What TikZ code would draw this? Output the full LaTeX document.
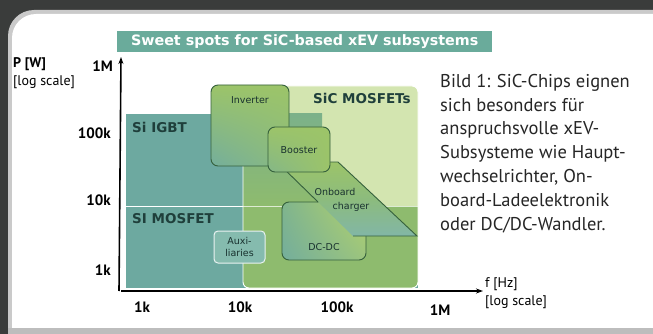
\documentclass[tikz,border=0pt]{standalone}
\usepackage{fontspec}
\setmainfont{PT Sans}
\newfontfamily\vfont{DejaVu Sans}
\usetikzlibrary{arrows.meta,shadings}
\definecolor{frame}{HTML}{3A3C3B}
\definecolor{cardedge}{HTML}{BDBDBD}
\definecolor{banner}{HTML}{6AAB9B}
\definecolor{siteal}{HTML}{6DA9A0}
\definecolor{sicgreen}{HTML}{D3E5B0}
\definecolor{mixgreen}{HTML}{8EBB6E}
\definecolor{boxgreen}{HTML}{9CC469}
\definecolor{boxteal}{HTML}{74AE9C}
\definecolor{yelgreen}{HTML}{B5D36A}
\definecolor{boxedge}{HTML}{35603C}
\definecolor{lbl}{HTML}{1F3F3B}
\definecolor{auxfill}{HTML}{85BBAE}
\tikzset{
  appbox/.style={draw=boxedge, line width=0.9pt, rounded corners=7pt},
  boxtxt/.style={font=\vfont\fontsize{9.5}{11.5}\selectfont, text=lbl!80!black, align=center, inner sep=0pt},
  regtxt/.style={font=\vfont\bfseries\fontsize{13.5}{15}\selectfont, text=lbl, anchor=west, inner sep=0pt},
  tick/.style={font=\bfseries\fontsize{15}{16}\selectfont, inner sep=0pt},
  axlbl/.style={font=\fontsize{14}{18}\selectfont, align=left, inner sep=0pt, anchor=north west},
  axis/.style={line width=1.6pt, -{Stealth[length=7pt,width=5pt]}}
}
\begin{document}
\begin{tikzpicture}[x=1pt,y=-1pt]
\useasboundingbox (0,0) rectangle (653,334);
% frame and card
\fill[frame] (0,0) rectangle (653,334);
\fill[cardedge!80!white] (8,334) -- (8,36) arc[start angle=180, end angle=270, radius=26] -- (653,10) -- (653,334) -- cycle;
\fill[white] (12,328) -- (12,38) arc[start angle=180, end angle=270, radius=24] -- (653,14) -- (653,328) -- cycle;
\fill[cardedge] (8,328) rectangle (653,334);
% title banner
\node[fill=banner, minimum width=375, minimum height=21, inner sep=0pt, anchor=north west,
      font=\vfont\bfseries\fontsize{14.3}{15}\selectfont, text=white] (title) at (117,31)
      {Sweet spots for SiC-based xEV subsystems};
% regions
\fill[siteal] (126,114) rectangle (322,288);
\fill[siteal] (126,206) rectangle (418,288);
\draw[white, line width=0.9pt] (126,206) -- (418,206);
\path[fill=sicgreen, rounded corners=6pt] (243,86) rectangle (418,288);
\begin{scope}
  \clip[rounded corners=6pt] (243,86) rectangle (418,288);
  \shade[top color=siteal!55!mixgreen, bottom color=mixgreen] (126,114) rectangle (322,206);
  \fill[mixgreen] (126,206) rectangle (418,288);
  \draw[white!70!mixgreen, line width=0.8pt] (243,206) -- (418,206);
\end{scope}
\draw[white, line width=0.9pt, rounded corners=6pt] (243,86) rectangle (418,288);
\node[regtxt] (sic) at (313,98) {SiC MOSFETs};
\node[regtxt] (igbt) at (132,127) {Si IGBT};
\node[regtxt] (simos) at (132,219) {SI MOSFET};
% inverter
\shade[appbox, upper right=boxgreen, upper left=boxgreen, lower right=boxgreen!60!boxteal, lower left=boxteal] (211,85) rectangle (289,166);
\node[boxtxt] (inv) at (250,100) {Inverter};
% dc-dc
\shade[appbox, upper left=boxteal!70!boxgreen, lower left=boxteal, lower right=boxteal!40!yelgreen, upper right=yelgreen] (282,202) rectangle (366,260);
\node[boxtxt] (dcdc) at (324,247) {DC-DC};
% onboard charger
\shade[top color=boxgreen, bottom color=boxteal!90!white, middle color=boxteal!40!boxgreen]
  (277,162) -- (338,162) -- (417,236) -- (353,236) -- cycle;
\draw[boxedge, line width=0.9pt] (318,202) -- (277,162) -- (338,162) -- (417,236) -- (353,236);
% booster
\shade[appbox, upper right=boxgreen, upper left=boxgreen, lower right=boxgreen, lower left=boxteal!60!boxgreen] (268,127) rectangle (330,172);
\node[boxtxt] (boost) at (299,150) {Booster};
\node[boxtxt] (obc1) at (335,192) {Onboard};
\node[boxtxt] (obc2) at (351,207) {charger};
% auxiliaries
\node[draw=white!85!siteal, line width=1pt, fill=auxfill, rounded corners=4pt, minimum width=51, minimum height=32,
      boxtxt, inner sep=0pt] (aux) at (239.5,247) {Auxi-\\liaries};
% axes
\coordinate (o) at (121,291);
\coordinate (ytop) at (121,57);
\coordinate (xend) at (483,291);
\draw[axis] (119,291) -- (ytop);
\draw[axis] (o) -- (xend);
% tick labels
\node[tick, anchor=east] (y1M) at (113,66) {1M};
\node[tick, anchor=east] (y100k) at (111,133) {100k};
\node[tick, anchor=east] (y10k) at (111,200) {10k};
\node[tick, anchor=east] (y1k) at (111,270) {1k};
\node[tick] (x1k) at (142,307) {1k};
\node[tick] (x10k) at (240,307) {10k};
\node[tick] (x100k) at (337,307) {100k};
\node[tick] (x1M) at (440,310) {1M};
\node[axlbl] (ylab) at (13,57) {\textbf{P [W]}\\{[log scale]}};
\node[axlbl] (xlab) at (485,277) {f [Hz]\\{[log scale]}};
% caption
\node[anchor=north west, align=left, inner sep=0pt, font=\fontsize{18.5}{23.8}\selectfont, text=black!85] (cap) at (440,74)
 {Bild 1: SiC-Chips eignen\\sich besonders für\\anspruchsvolle xEV-\\Subsysteme wie Haupt-\\wechselrichter, On-\\board-Ladeelektronik\\oder DC/DC-Wandler.};
\end{tikzpicture}
\end{document}
